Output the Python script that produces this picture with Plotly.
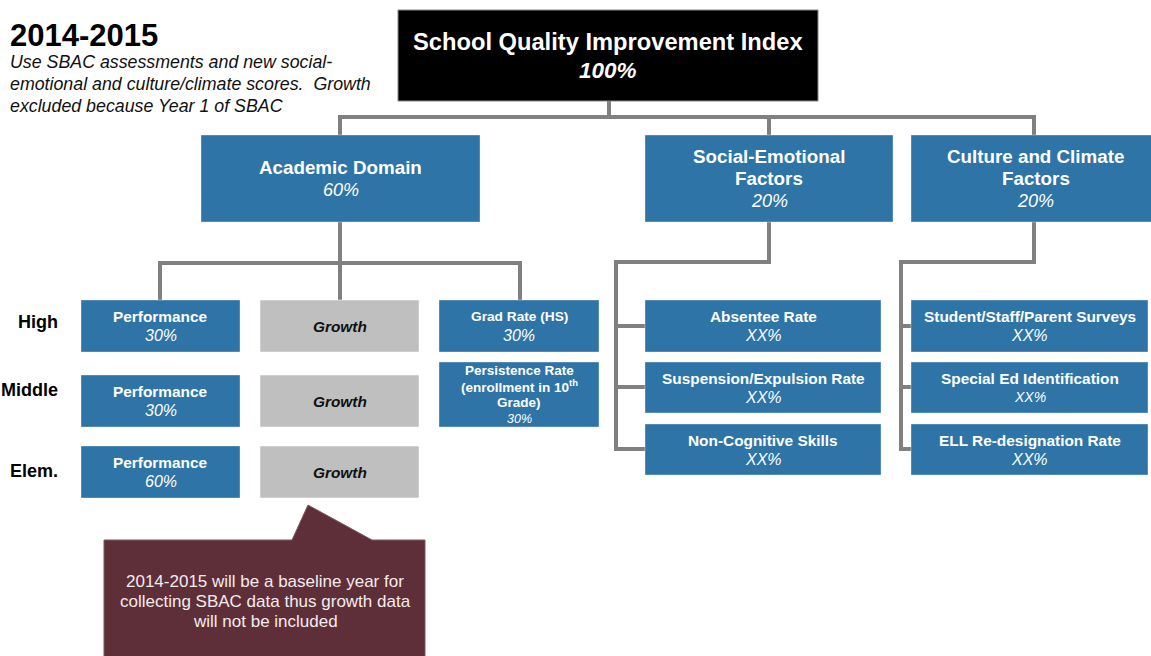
import plotly.graph_objects as go

# ---------------- data (text content) ----------------
title_text = "2014-2015"
subtitle_lines = ["Use SBAC assessments and new social-",
                  "emotional and culture/climate scores.  Growth",
                  "excluded because Year 1 of SBAC"]
root_label = "School Quality Improvement Index"
root_weight = "100%"
domain_labels = [["Academic Domain"], ["Social-Emotional", "Factors"], ["Culture and Climate", "Factors"]]
domain_weights = ["60%", "20%", "20%"]
levels = ["High", "Middle", "Elem."]
performance_label = "Performance"
performance_weights = ["30%", "30%", "60%"]
growth_label = "Growth"
academic_extra_labels = [["Grad Rate (HS)"], ["Persistence Rate", "(enrollment in 10<sup>th</sup>", "Grade)"]]
academic_extra_weights = ["30%", "30%"]
social_labels = ["Absentee Rate", "Suspension/Expulsion Rate", "Non-Cognitive Skills"]
social_weights = ["XX%", "XX%", "XX%"]
culture_labels = ["Student/Staff/Parent Surveys", "Special Ed Identification", "ELL Re-designation Rate"]
culture_weights = ["XX%", "XX%", "XX%"]
callout_lines = ["2014-2015 will be a baseline year for",
                 "collecting SBAC data thus growth data",
                 "will not be included"]

# ---------------- styles ----------------
W, H = 1151, 656
BLUE = "#2E74A7"
GRAYBOX = "#BFBFBF"
LINEC = "#808080"
MAROON = "#5E2F39"
FONT = "Arial, Liberation Sans, sans-serif"

fig = go.Figure()
shapes = []
annots = []


def line(x0, y0, x1, y1):
    shapes.append(dict(type="line", x0=x0, y0=y0, x1=x1, y1=y1, xref="x", yref="y",
                       line=dict(color=LINEC, width=4), layer="below"))


def box(x0, y0, x1, y1, fill, border="rgba(255,255,255,0.35)"):
    shapes.append(dict(type="rect", x0=x0, y0=y0, x1=x1, y1=y1, xref="x", yref="y",
                       fillcolor=fill, line=dict(color=border, width=1), layer="above"))


def text(x, y, t, size, color="white", bold=False, italic=False, xanchor="center"):
    t = t.replace("  ", "&nbsp; ")
    if italic:
        t = "<i>" + t + "</i>"
    if bold:
        t = "<b>" + t + "</b>"
    annots.append(dict(x=x, y=y, xref="x", yref="y", text=t, showarrow=False,
                       xanchor=xanchor, yanchor="middle",
                       font=dict(family=FONT, size=size, color=color)))


def box_text(x0, y0, x1, y1, labels, weight, size, wsize, spacing, color="white"):
    n = len(labels) + (1 if weight else 0)
    cy = (y0 + y1) / 2
    cx = (x0 + x1) / 2
    start = cy - spacing * (n - 1) / 2
    for i, lab in enumerate(labels):
        text(cx, start + i * spacing, lab, size, color, bold=True)
    if weight:
        text(cx, start + len(labels) * spacing, weight, wsize, color, italic=True)


# ---------------- connectors ----------------
line(609, 101, 609, 117)
line(338, 117, 1036, 117)
for x in (340, 769, 1034):
    line(x, 117, x, 135)
# academic
line(340, 222, 340, 263)
line(158, 263, 522, 263)
for x in (160, 340, 520):
    line(x, 263, x, 300)
# social
line(769, 222, 769, 262)
line(614, 262, 771, 262)
line(616, 260, 616, 451)
for y in (326, 387, 449):
    line(614, y, 645, y)
# culture
line(1034, 222, 1034, 262)
line(899, 262, 1036, 262)
line(901, 260, 901, 451)
for y in (326, 387, 449):
    line(899, y, 911, y)

# ---------------- header ----------------
text(8, 35, title_text, 31, "black", bold=True, xanchor="left")
for i, s in enumerate(subtitle_lines):
    text(8, 62 + i * 22, s, 17.8, "#111111", italic=True, xanchor="left")

# root
box(398, 10, 818, 101, "black", border="#888888")
text(608, 42, root_label, 23.7, "white", bold=True)
text(608, 70, root_weight, 22.5, "white", bold=True, italic=True)

# domains
domain_boxes = [(201, 135, 480, 222), (645, 135, 893, 222), (911, 135, 1160, 222)]
for (x0, y0, x1, y1), labs, w in zip(domain_boxes, domain_labels, domain_weights):
    box(x0, y0, x1, y1, BLUE)
    box_text(x0, y0, x1, y1, labs, w, 18.8, 18, 22.5)

# level rows
row_y = [(300, 352), (375, 427), (446, 498)]
label_y = [322, 390, 471]
for lev, ly in zip(levels, label_y):
    text(60, ly, lev, 18, "black", bold=True, xanchor="right")
for (y0, y1), w in zip(row_y, performance_weights):
    box(81, y0, 240, y1, BLUE)
    box_text(81, y0, 240, y1, [performance_label], w, 15.4, 16, 19)
    box(260, y0, 419, y1, GRAYBOX, border="rgba(255,255,255,0.5)")
    text(339.5, (y0 + y1) / 2, growth_label, 15.4, "#111111", bold=True, italic=True)

# grad / persistence
extra_boxes = [(439, 300, 599, 352), (439, 362, 599, 427)]
box(*extra_boxes[0], BLUE)
box_text(*extra_boxes[0], academic_extra_labels[0], academic_extra_weights[0], 13.7, 16, 19)
box(*extra_boxes[1], BLUE)
box_text(*extra_boxes[1], academic_extra_labels[1], academic_extra_weights[1], 13.5, 12.5, 16.3)

# social / culture sub boxes
sub_y = [(300, 352), (362, 413), (424, 475)]
for (y0, y1), lab, w in zip(sub_y, social_labels, social_weights):
    box(645, y0, 881, y1, BLUE)
    box_text(645, y0, 881, y1, [lab], w, 15.4, 16, 19)
for i, ((y0, y1), lab, w) in enumerate(zip(sub_y, culture_labels, culture_weights)):
    box(911, y0, 1148, y1, BLUE)
    box_text(911, y0, 1148, y1, [lab], w, 15.4, 14 if i == 1 else 16, 19)

# callout
shapes.append(dict(type="path", xref="x", yref="y",
                   path="M 104 540 L 292 540 L 308 505 L 372 540 L 425 540 L 425 670 L 104 670 Z",
                   fillcolor=MAROON, line=dict(color="#7a5a60", width=1), layer="above"))
for i, s in enumerate(callout_lines):
    text(265, 581 + i * 20, s, 17, "#F4ECEC")

fig.update_layout(width=W, height=H, margin=dict(l=0, r=0, t=0, b=0),
                  paper_bgcolor="white", plot_bgcolor="white",
                  shapes=shapes, annotations=annots, showlegend=False)
fig.update_xaxes(range=[0, W], visible=False, fixedrange=True)
fig.update_yaxes(range=[H, 0], visible=False, fixedrange=True)
fig.write_html("out.html", config={"displayModeBar": False},
               post_script="document.body.style.margin='0';document.body.style.padding='0';")
